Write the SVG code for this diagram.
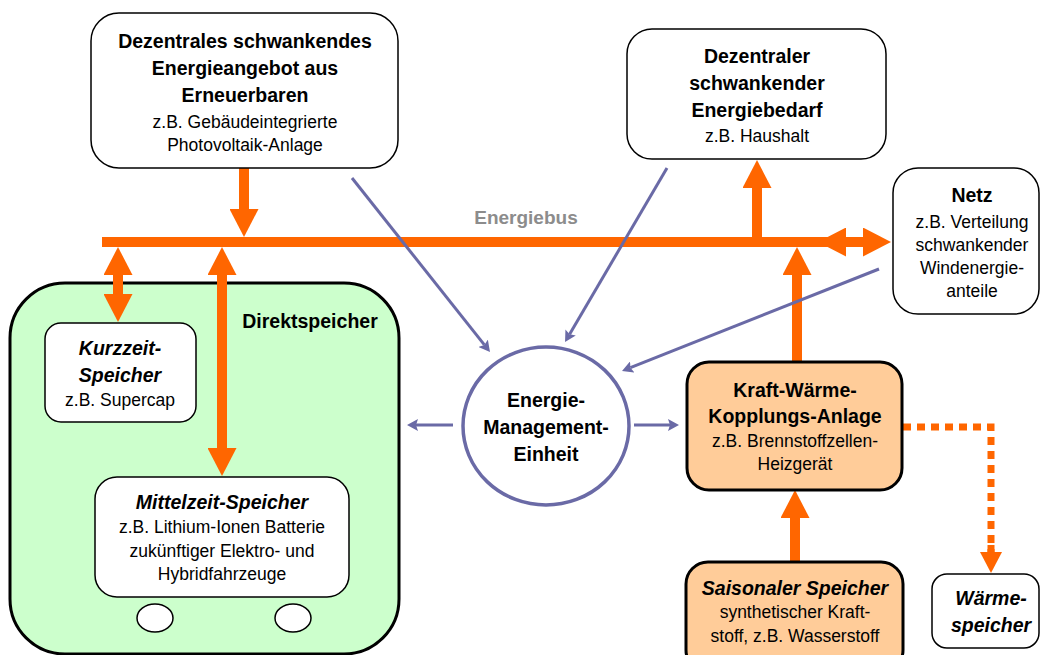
<svg xmlns="http://www.w3.org/2000/svg" width="1040" height="655" viewBox="0 0 1040 655">
<style>
text{font-family:"Liberation Sans",Arial,sans-serif;text-anchor:middle;fill:#000}
.b{font-weight:bold;font-size:19.5px}
.bi{font-weight:bold;font-style:italic;font-size:19.5px}
.n{font-size:17.5px}
.box{fill:#fff;stroke:#000;stroke-width:1.5}
.kwk{fill:#ffcc99;stroke:#000;stroke-width:3}
.or{stroke:#ff6600;stroke-width:10;fill:none}
.pu{stroke:#6a6aa6;stroke-width:3;fill:none}
</style>
<defs>
<marker id="oa" viewBox="0 -14.5 28 29" refX="0" refY="0" markerWidth="28" markerHeight="29" markerUnits="userSpaceOnUse" orient="auto-start-reverse">
<path d="M0,-14.5 L28,0 L0,14.5 z" fill="#ff6600"/>
</marker>
<marker id="os" viewBox="0 -11 21 22" refX="0" refY="0" markerWidth="21" markerHeight="22" markerUnits="userSpaceOnUse" orient="auto">
<path d="M0,-11 L21,0 L0,11 z" fill="#ff6600"/>
</marker>
<marker id="pa" viewBox="0 -6 11 12" refX="2" refY="0" markerWidth="11" markerHeight="12" markerUnits="userSpaceOnUse" orient="auto">
<path d="M0,-6 L11,0 L0,6 L2,0 z" fill="#6a6aa6"/>
</marker>
</defs>

<g id="direktspeicher">
<rect x="10" y="283" width="389" height="371" rx="55" fill="#ccffcc" stroke="#000" stroke-width="3"/>
<text class="b" x="310" y="328">Direktspeicher</text>
</g>

<g id="connectors">
<line class="or" x1="102" y1="242" x2="848" y2="242" stroke-width="9"/>
<line class="or" x1="846" y1="242" x2="863" y2="242" stroke-width="9" marker-start="url(#oa)" marker-end="url(#oa)"/>
<line class="or" x1="244" y1="168" x2="244" y2="209" marker-end="url(#oa)"/>
<line class="or" x1="118" y1="275" x2="118" y2="294" marker-start="url(#oa)" marker-end="url(#oa)"/>
<line class="or" x1="222" y1="275" x2="222" y2="448" marker-start="url(#oa)" marker-end="url(#oa)"/>
<line class="or" x1="757" y1="242" x2="757" y2="188" marker-end="url(#oa)"/>
<line class="or" x1="797" y1="362" x2="797" y2="275" marker-end="url(#oa)"/>
<line class="or" x1="795" y1="562" x2="795" y2="518" marker-end="url(#oa)"/>
<path d="M903,427 H991 V552" stroke="#ff6600" stroke-width="7" fill="none" stroke-dasharray="8 6"/>
<line x1="991" y1="545" x2="991" y2="552" stroke="#ff6600" stroke-width="7" marker-end="url(#os)"/>
<line class="pu" x1="352" y1="178" x2="484.4" y2="344.9" marker-end="url(#pa)"/>
<line class="pu" x1="667" y1="168" x2="569.6" y2="334.2" marker-end="url(#pa)"/>
<line class="pu" x1="879" y1="269" x2="630.4" y2="367.7" marker-end="url(#pa)"/>
<line class="pu" x1="453" y1="425" x2="416" y2="425" marker-end="url(#pa)"/>
<line class="pu" x1="634" y1="425" x2="670" y2="425" marker-end="url(#pa)"/>
<text x="526" y="224" style="font-weight:bold;font-size:19px;fill:#8c8c8c">Energiebus</text>
</g>

<g id="angebot">
<rect class="box" x="91" y="13" width="307" height="155" rx="28"/>
<text class="b" x="245" y="48">Dezentrales schwankendes</text>
<text class="b" x="245" y="75">Energieangebot aus</text>
<text class="b" x="245" y="102">Erneuerbaren</text>
<text class="n" x="245" y="128">z.B. Gebäudeintegrierte</text>
<text class="n" x="245" y="151">Photovoltaik-Anlage</text>
</g>

<g id="bedarf">
<rect class="box" x="627" y="29" width="259" height="130" rx="25"/>
<text class="b" x="757" y="63">Dezentraler</text>
<text class="b" x="757" y="90">schwankender</text>
<text class="b" x="757" y="117">Energiebedarf</text>
<text class="n" x="757" y="142">z.B. Haushalt</text>
</g>

<g id="netz">
<rect class="box" x="893" y="168" width="146" height="146" rx="25"/>
<text class="b" x="972" y="202">Netz</text>
<text class="n" x="972" y="228">z.B. Verteilung</text>
<text class="n" x="972" y="251">schwankender</text>
<text class="n" x="972" y="274">Windenergie-</text>
<text class="n" x="972" y="297">anteile</text>
</g>

<g id="kurzzeit">
<rect class="box" x="45" y="323" width="151" height="99" rx="16"/>
<text class="bi" x="120" y="355">Kurzzeit-</text>
<text class="bi" x="120" y="382">Speicher</text>
<text class="n" x="120" y="406">z.B. Supercap</text>
</g>

<g id="mittelzeit">
<rect class="box" x="95" y="477" width="254" height="120" rx="22"/>
<text class="bi" x="222" y="509">Mittelzeit-Speicher</text>
<text class="n" x="222" y="533">z.B. Lithium-Ionen Batterie</text>
<text class="n" x="222" y="557">zukünftiger Elektro- und</text>
<text class="n" x="222" y="580">Hybridfahrzeuge</text>
<ellipse cx="155" cy="618" rx="18" ry="14" fill="#fff" stroke="#000" stroke-width="1.5"/>
<ellipse cx="293" cy="618" rx="18" ry="14" fill="#fff" stroke="#000" stroke-width="1.5"/>
</g>

<g id="em">
<ellipse cx="546" cy="426" rx="83" ry="79" fill="#fff" stroke="#6a6aa6" stroke-width="3.5"/>
<text class="b" x="546" y="407">Energie-</text>
<text class="b" x="546" y="434">Management-</text>
<text class="b" x="546" y="461">Einheit</text>
</g>

<g id="kwk">
<rect class="kwk" x="687" y="362" width="215" height="128" rx="22"/>
<text class="b" x="795" y="397">Kraft-Wärme-</text>
<text class="b" x="795" y="423">Kopplungs-Anlage</text>
<text class="n" x="795" y="447">z.B. Brennstoffzellen-</text>
<text class="n" x="795" y="470">Heizgerät</text>
</g>

<g id="saisonal">
<rect class="kwk" x="686" y="562" width="217" height="110" rx="22"/>
<text class="bi" x="795" y="595">Saisonaler Speicher</text>
<text class="n" x="795" y="618">synthetischer Kraft-</text>
<text class="n" x="795" y="642">stoff, z.B. Wasserstoff</text>
</g>

<g id="waermespeicher">
<rect class="box" x="932" y="574" width="107" height="74" rx="15"/>
<text class="bi" x="991" y="605">Wärme-</text>
<text class="bi" x="991" y="632">speicher</text>
</g>
</svg>
